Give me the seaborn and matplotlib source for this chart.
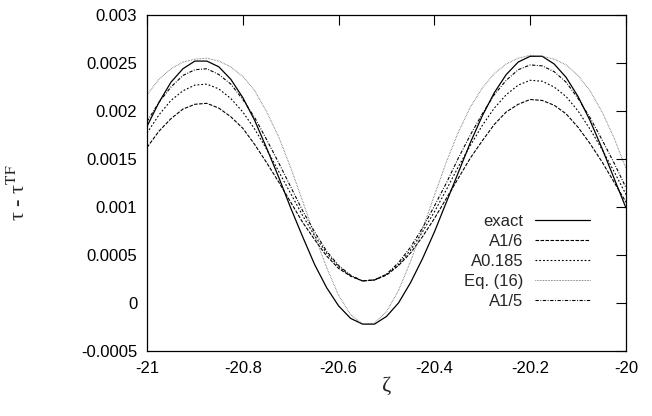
import matplotlib
matplotlib.use('Agg')
import matplotlib.pyplot as plt
import seaborn as sns
import numpy as np

# zeta grid (step 0.025) and the five curves
zeta = np.linspace(-21.0, -20.0, 41)

exact = [0.00184, 0.00209, 0.00230, 0.00244, 0.00252, 0.00252, 0.00246, 0.00233, 0.00214, 0.00190,
         0.00161, 0.00131, 0.00099, 0.00069, 0.00040, 0.00016, -0.00003, -0.00016, -0.00022,
         -0.00022, -0.00014, 0.00000, 0.00021, 0.00046, 0.00074, 0.00105, 0.00136, 0.00167, 0.00195,
         0.00219, 0.00238, 0.00251, 0.00257, 0.00257, 0.00249, 0.00235, 0.00215, 0.00190, 0.00161,
         0.00130, 0.00099]
a_1_6 = [0.00162, 0.00179, 0.00192, 0.00202, 0.00207, 0.00208, 0.00203, 0.00194, 0.00182, 0.00165,
         0.00146, 0.00126, 0.00105, 0.00084, 0.00066, 0.00049, 0.00036, 0.00028, 0.00023,
         0.00024, 0.00029, 0.00039, 0.00052, 0.00069, 0.00088, 0.00109, 0.00130, 0.00151, 0.00169,
         0.00186, 0.00199, 0.00207, 0.00212, 0.00211, 0.00206, 0.00197, 0.00183, 0.00166, 0.00147,
         0.00126, 0.00105]
a_0185 = [0.00177, 0.00196, 0.00211, 0.00221, 0.00227, 0.00228, 0.00223, 0.00213, 0.00199, 0.00181,
          0.00160, 0.00137, 0.00114, 0.00091, 0.00070, 0.00052, 0.00038, 0.00028, 0.00023,
          0.00024, 0.00030, 0.00040, 0.00055, 0.00074, 0.00095, 0.00118, 0.00142, 0.00164, 0.00185,
          0.00203, 0.00217, 0.00227, 0.00232, 0.00231, 0.00225, 0.00215, 0.00200, 0.00181, 0.00160,
          0.00137, 0.00113]
eq16 = [0.00217, 0.00233, 0.00244, 0.00251, 0.00254, 0.00255, 0.00252, 0.00246, 0.00236, 0.00221,
        0.00199, 0.00173, 0.00141, 0.00106, 0.00070, 0.00037, 0.00008, -0.00012, -0.00022,
        -0.00021, -0.00009, 0.00013, 0.00043, 0.00077, 0.00112, 0.00147, 0.00178, 0.00204, 0.00224,
        0.00239, 0.00249, 0.00255, 0.00258, 0.00257, 0.00254, 0.00248, 0.00237, 0.00221, 0.00199,
        0.00172, 0.00140]
a_1_5 = [0.00189, 0.00209, 0.00225, 0.00237, 0.00243, 0.00244, 0.00238, 0.00228, 0.00212, 0.00193,
         0.00170, 0.00146, 0.00121, 0.00096, 0.00074, 0.00054, 0.00039, 0.00029, 0.00023,
         0.00024, 0.00030, 0.00042, 0.00058, 0.00078, 0.00101, 0.00125, 0.00151, 0.00175, 0.00197,
         0.00217, 0.00232, 0.00243, 0.00248, 0.00247, 0.00241, 0.00230, 0.00213, 0.00193, 0.00170,
         0.00146, 0.00120]

labels = ['exact', 'A1/6', 'A0.185', 'Eq. (16)', 'A1/5']
xticks = [-21, -20.8, -20.6, -20.4, -20.2, -20]
xtick_labels = ['-21', '-20.8', '-20.6', '-20.4', '-20.2', '-20']
yticks = [-0.0005, 0, 0.0005, 0.001, 0.0015, 0.002, 0.0025, 0.003]
ytick_labels = ['-0.0005', '0', '0.0005', '0.001', '0.0015', '0.002', '0.0025', '0.003']

sns.set_style('white')
plt.rcParams['font.family'] = ['Liberation Sans', 'DejaVu Sans']
plt.rcParams['mathtext.fontset'] = 'stix'
plt.rcParams['axes.unicode_minus'] = False

fig = plt.figure(figsize=(6.52, 4.16), dpi=100)
ax = fig.add_axes([147 / 652, 1 - 351 / 416, 479 / 652, 336 / 416])

styles = [
    dict(linestyle='-', color='k', lw=0.9),
    dict(linestyle=(0, (3.2, 1.3)), color='k', lw=0.8),
    dict(linestyle=(0, (1.6, 1.8)), color='k', lw=0.8),
    dict(linestyle=(0, (0.6, 1.0)), color='0.3', lw=0.7),
    dict(linestyle=(0, (3.0, 1.4, 0.8, 1.4)), color='k', lw=0.8),
]
for vals, name, st in zip([exact, a_1_6, a_0185, eq16, a_1_5], labels, styles):
    sns.lineplot(x=zeta, y=vals, ax=ax, label=name, **st)

ax.set_xlim(-21, -20)
ax.set_ylim(-0.0005, 0.003)
ax.set_xticks(xticks)
ax.set_xticklabels(xtick_labels)
ax.set_yticks(yticks)
ax.set_yticklabels(ytick_labels)
ax.tick_params(direction='in', length=7, width=0.8, top=True, right=True,
               labelsize=12, pad=7, colors='k')
for sp in ax.spines.values():
    sp.set_color('k')
    sp.set_linewidth(0.9)

serif = ['Liberation Serif', 'DejaVu Serif']
ax.set_xlabel('ζ', fontsize=16, family=serif, labelpad=1)
ax.set_ylabel(r'τ - τ$^{\mathrm{TF}}$', fontsize=16, family=serif)
ax.yaxis.set_label_coords(-0.245, 0.47)

ax.legend(loc='lower right', bbox_to_anchor=(0.925, 0.125), frameon=False, markerfirst=False,
          fontsize=12, handlelength=3.3, handletextpad=0.7, labelspacing=0.3,
          borderpad=0, borderaxespad=0)

plt.savefig('out.png', dpi=100)
